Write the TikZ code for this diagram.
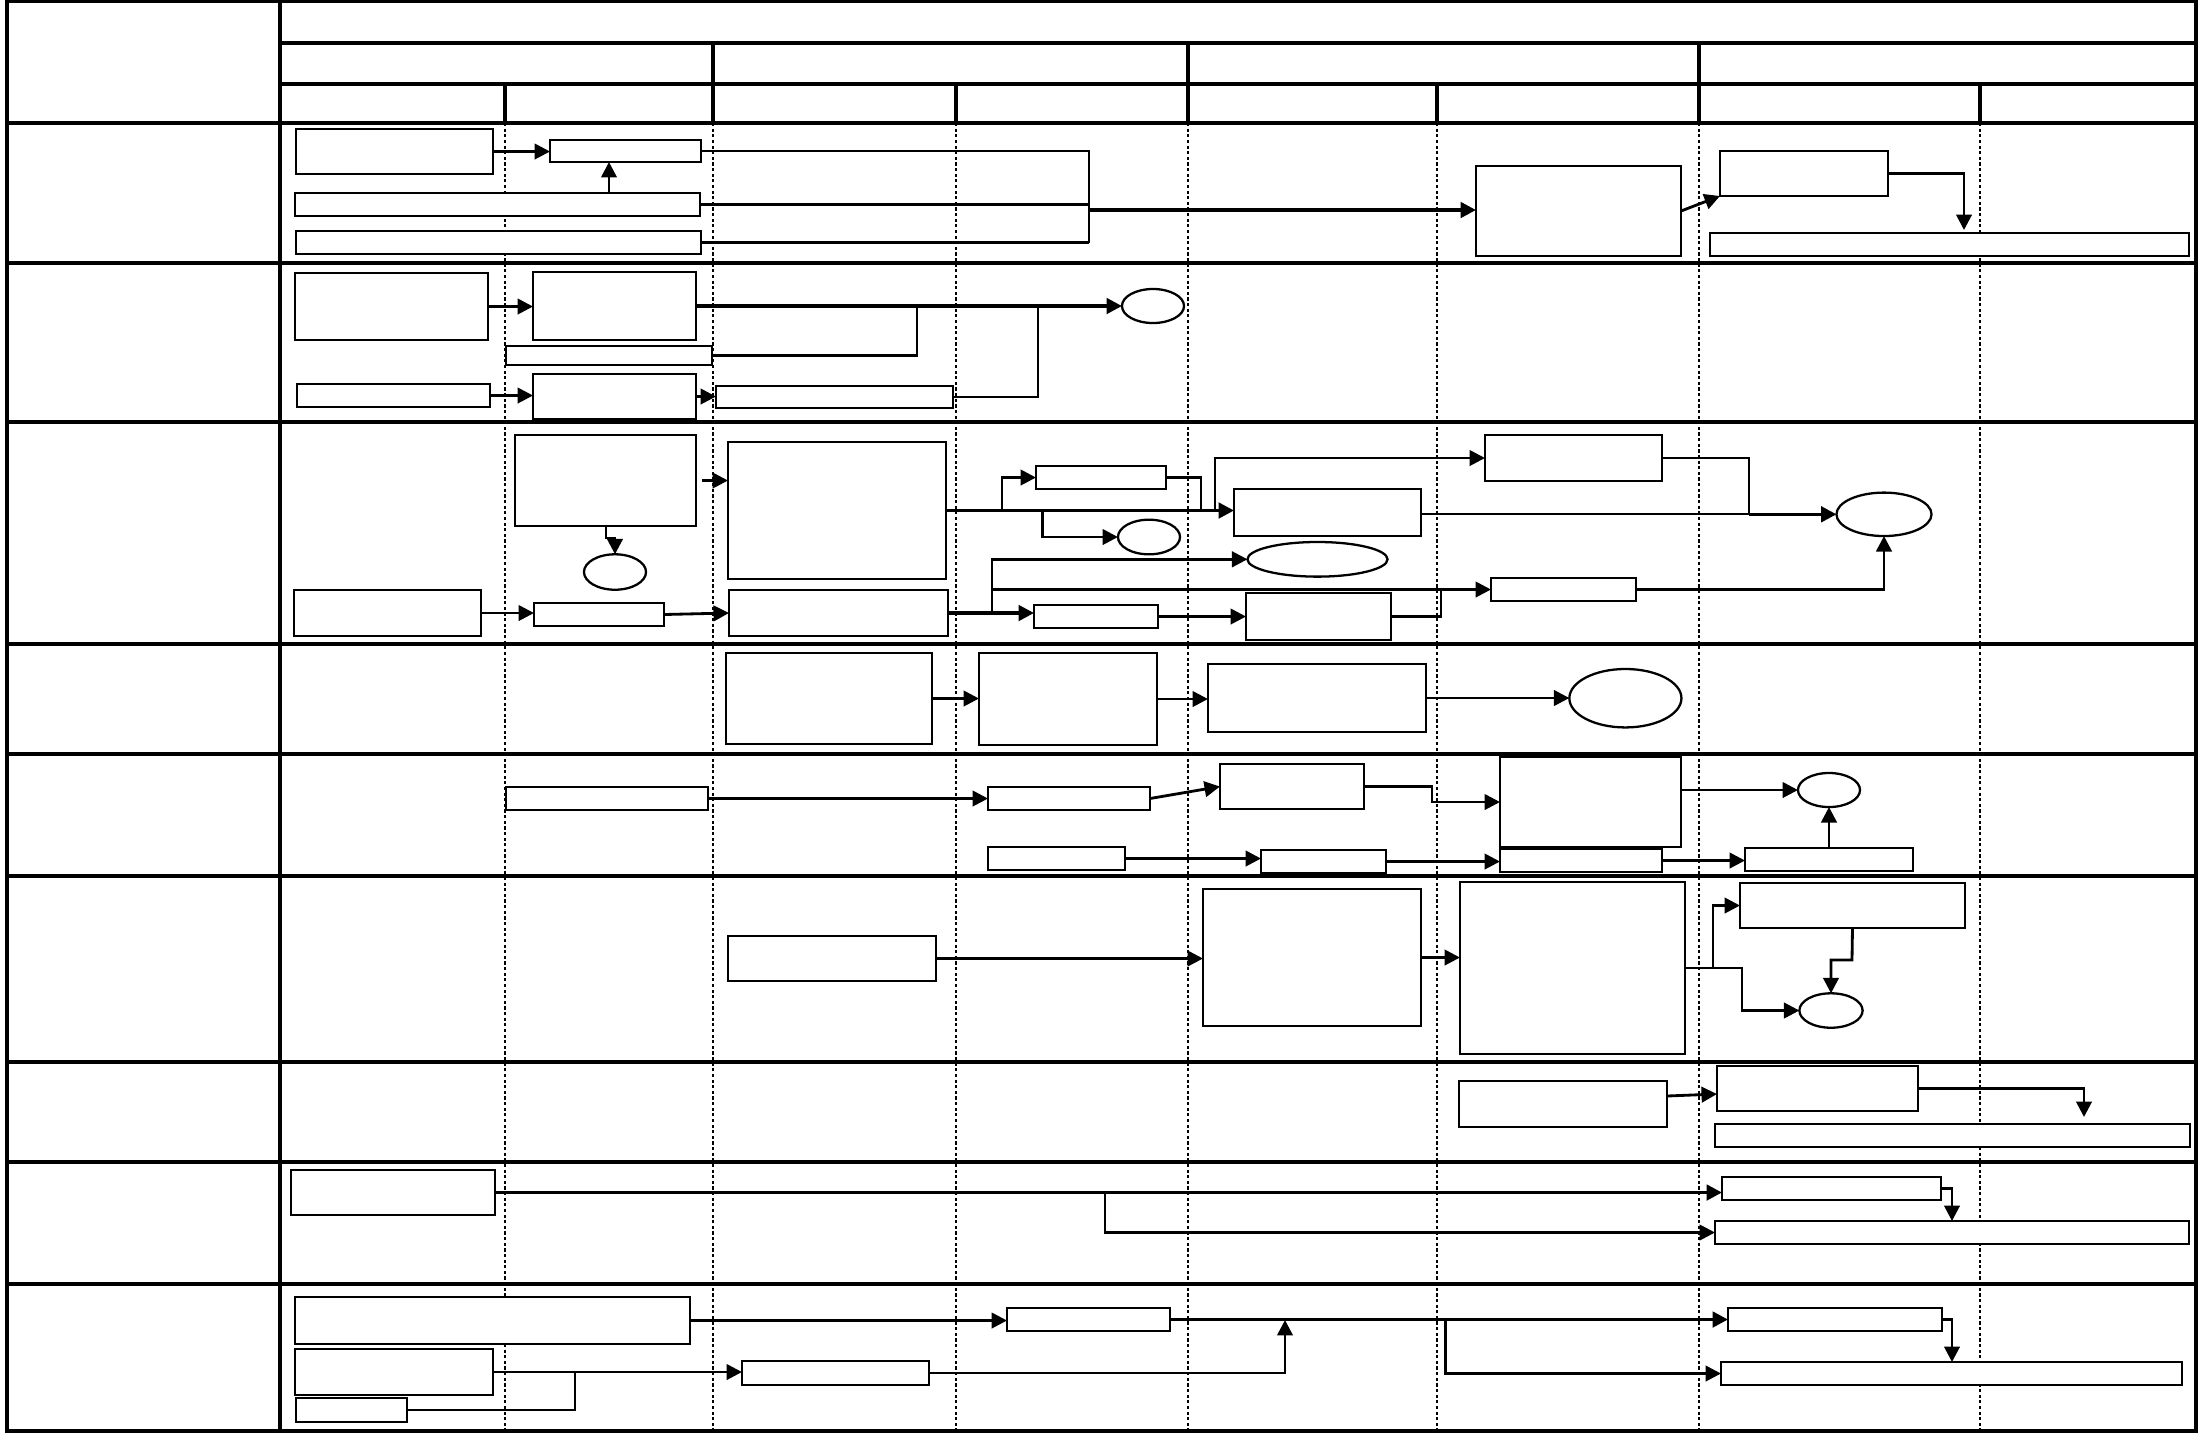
\documentclass[tikz,border=0pt]{standalone}
\usetikzlibrary{arrows.meta,shapes.geometric}
\newcommand\mkbox[5]{%
  \pgfmathsetmacro\mkw{(#4-#2)*0.01}%
  \pgfmathsetmacro\mkh{(#5-#3)*0.01}%
  \node[box, minimum width=\mkw cm, minimum height=\mkh cm] (#1) at ({(#2+#4)/2},{(#3+#5)/2}) {};}
\newcommand\mkell[5]{%
  \pgfmathsetmacro\mkw{#4*0.02}%
  \pgfmathsetmacro\mkh{#5*0.02}%
  \node[ell, minimum width=\mkw cm, minimum height=\mkh cm] (#1) at (#2,#3) {};}
\begin{document}
\begin{tikzpicture}[x=0.01cm,y=-0.01cm,
  frame/.style={line width=0.9pt},
  gridln/.style={line width=0.7pt, dash pattern=on 0.9pt off 0.7pt},
  box/.style={draw, fill=white, line width=0.65pt, inner sep=0pt, outer sep=0pt, rectangle},
  ell/.style={draw, fill=white, line width=0.65pt, inner sep=0pt, outer sep=0pt, ellipse},
  ln/.style={line width=0.8pt},
  thn/.style={line width=0.55pt},
  arr/.style={line width=0.8pt, -{Triangle[length=4.4pt,width=4.4pt]}},
  mainarr/.style={line width=1pt, -{Triangle[length=4.4pt,width=4.4pt]}}]
\useasboundingbox (0,0) rectangle (2205,1432);
\fill[white] (0,0) rectangle (2205,1432);
% dotted column lines
\foreach \x in {505,713,956,1188,1437,1699,1980}
  \draw[gridln] (\x,123) -- (\x,1431);
% frame
\draw[frame] (7,1) rectangle (2196,1431);
\draw[frame] (280,1) -- (280,1431);
\draw[frame] (280,43) -- (2196,43);
\draw[frame] (280,84) -- (2196,84);
\foreach \y in {123,263,422,644,754,876,1062,1162,1284}
  \draw[frame] (7,\y) -- (2196,\y);
\foreach \x in {713,1188,1699}
  \draw[frame] (\x,43) -- (\x,123);
\foreach \x in {505,956,1437,1980}
  \draw[frame] (\x,84) -- (\x,123);
% row 1
\mkbox{A1}{296}{129}{493}{174}
\mkbox{A2}{550}{140}{701}{162}
\mkbox{A3}{295}{193}{700}{216}
\mkbox{A4}{296}{231}{701}{254}
\mkbox{A5}{1476}{166}{1681}{256}
\mkbox{A6}{1720}{151}{1888}{196}
\mkbox{A7}{1710}{233}{2189}{256}
% row 2
\mkbox{B1}{295}{273}{488}{340}
\mkbox{B2}{533}{272}{696}{340}
\mkbox{B3}{506}{346}{712}{365}
\mkbox{B4}{297}{384}{490}{407}
\mkbox{B5}{533}{374}{696}{419}
\mkbox{B6}{716}{386}{953}{408}
\mkell{C1}{1153}{306}{31}{17}
% row 3
\mkbox{D0}{294}{590}{481}{636}
\mkbox{D1}{515}{435}{696}{526}
\mkbox{D2}{728}{442}{946}{579}
\mkbox{D3}{534}{603}{664}{626}
\mkbox{D4}{729}{590}{948}{636}
\mkbox{D5}{1234}{489}{1421}{536}
\mkbox{D6}{1036}{466}{1166}{489}
\mkbox{D8}{1485}{435}{1662}{481}
\mkbox{D9}{1246}{593}{1391}{640}
\mkbox{D10}{1491}{578}{1636}{601}
\mkbox{D11}{1034}{605}{1158}{628}
\mkell{D7}{1317.5}{559.3}{70}{17.3}
\mkell{C2}{615}{572}{31}{17.7}
\mkell{C3}{1149}{537}{31}{17.3}
\mkell{C4}{1884}{514.3}{47.5}{21.7}
% row 4
\mkbox{E1}{726}{653}{932}{744}
\mkbox{E2}{979}{653}{1157}{745}
\mkbox{E3}{1208}{664}{1426}{732}
\mkell{C5}{1625.4}{698.2}{56}{29.2}
% row 5
\mkbox{F1}{506}{787}{708}{810}
\mkbox{F2}{988}{787}{1150}{810}
\mkbox{F3}{1220}{764}{1364}{809}
\mkbox{F4}{1500}{757}{1681}{847}
\mkbox{F5}{988}{847}{1125}{870}
\mkbox{F6}{1261}{850}{1386}{873}
\mkbox{F7}{1500}{849}{1662}{872}
\mkbox{F8}{1745}{848}{1913}{871}
\mkell{C6}{1829}{790}{31}{17}
% row 6
\mkbox{G1}{728}{936}{936}{981}
\mkbox{G2}{1203}{889}{1421}{1026}
\mkbox{G3}{1460}{882}{1685}{1054}
\mkbox{G4}{1740}{883}{1965}{928}
\mkell{C7}{1831}{1010.5}{31.6}{17.2}
% row 7
\mkbox{H1}{1459}{1081}{1667}{1127}
\mkbox{H2}{1717}{1066}{1918}{1111}
\mkbox{H3}{1715}{1124}{2190}{1147}
% row 8
\mkbox{I1}{291}{1170}{495}{1215}
\mkbox{I2}{1722}{1177}{1941}{1200}
\mkbox{I3}{1715}{1221}{2189}{1244}
% row 9
\mkbox{J1}{295}{1297}{690}{1344}
\mkbox{J2}{1007}{1308}{1170}{1331}
\mkbox{J3}{295}{1349}{493}{1395}
\mkbox{J4}{742}{1361}{929}{1385}
\mkbox{J5}{1728}{1308}{1942}{1331}
\mkbox{J6}{1721}{1362}{2182}{1385}
\mkbox{J7}{296}{1398}{407}{1422}
% ---- connectors row 1
\draw[arr] (A1.east) -- (A1.east -| A2.west);
\coordinate (a3u) at (609,193);
\draw[arr] (a3u) -- (a3u |- A2.south);
\coordinate (ja) at (1089,210);
\coordinate (jab) at (1089,242.5);
\draw[ln] (A2.east) -| (jab);
\draw[ln] (A3.east) -- (A3.east -| ja);
\draw[ln] (A4.east) -- (A4.east -| ja);
\draw[mainarr] (ja) -- (ja -| A5.west);
\draw[arr] (A5.east) -- (A6.south west);
\coordinate (a7i) at (1964,230);
\draw[arr] (A6.east) -| (a7i);
% row 2
\draw[arr] (B1.east) -- (B1.east -| B2.west);
\draw[mainarr] (B2.east) -- (C1.west);
\coordinate (jb1) at (917,306);
\draw[ln] (B3.east) -| (jb1);
\draw[arr] (B4.east) -- (B4.east -| B5.west);
\draw[arr] (B5.east) -- (B5.east -| B6.west);
\coordinate (jb2) at (1038,306);
\draw[ln] (B6.east) -| (jb2);
% row 3
\draw[arr] (D0.east) -- (D0.east -| D3.west);
\draw[arr, shorten <=1.7pt] (D1.east) -- (D1.east -| D2.west);
\coordinate (d1b) at (606,526);
\draw[arr] (d1b) -- (606,538) -- (615,538) -- (C2.north);
\draw[arr] (D3.east) -- (D4.west);
\draw[mainarr] (D2.east) -- (D2.east -| D5.west);
\coordinate (jd1) at (1002,510.5);
\draw[arr] (jd1) |- (D6.west);
\coordinate (jd2) at (1042.5,510.5);
\draw[arr] (jd2) |- (C3.west);
\coordinate (jd3) at (1201,510.5);
\draw[ln] (D6.east) -| (jd3);
\coordinate (jd4) at (1215,510.5);
\draw[arr] (jd4) |- (D8.west);
\coordinate (jd5) at (1749,514.3);
\draw[ln] (D8.east) -| (jd5);
\draw[thn] (D5.east |- C4.west) -- (jd5);
\draw[mainarr] (jd5) -- (C4.west);
\draw[mainarr] (D4.east) -- (D4.east -| D11.west);
\coordinate (jd6) at (992,613);
\draw[arr] (jd6) |- (D7.west);
\coordinate (jd7) at (992,589.5);
\draw[arr] (jd7) -- (jd7 -| D10.west);
\draw[arr] (D11.east) -- (D11.east -| D9.west);
\coordinate (jd8) at (1441,589.5);
\draw[ln] (D9.east) -| (jd8);
\draw[arr] (D10.east) -| (C4.south);
% row 4
\draw[arr] (E1.east) -- (E1.east -| E2.west);
\draw[arr] (E2.east) -- (E2.east -| E3.west);
\draw[arr] (E3.east) -- (E3.east -| C5.west);
% row 5
\draw[arr] (F1.east) -- (F1.east -| F2.west);
\draw[arr] (F2.east) -- (F3.west);
\coordinate (jf1) at (1432,786.5);
\draw[arr] (F3.east) -- (jf1) |- (F4.west);
\draw[arr] (F4.east |- C6.west) -- (C6.west);
\draw[arr] (F5.east) -- (F5.east -| F6.west);
\draw[arr] (F6.east) -- (F6.east -| F7.west);
\draw[arr] (F7.east) -- (F7.east -| F8.west);
\draw[arr] (F8.north) -- (C6.south);
% row 6
\draw[arr] (G1.east) -- (G1.east -| G2.west);
\draw[arr] (G2.east) -- (G2.east -| G3.west);
\coordinate (jg1) at (1713,968);
\coordinate (jg2) at (1742,968);
\draw[arr] (G3.east |- jg1) -- (jg1) |- (G4.west);
\draw[arr] (jg1) -- (jg2) |- (C7.west);
\draw[arr] (G4.south) -- (1852,960) -- (1831,960) -- (C7.north);
% row 7
\coordinate (h1o) at (1667,1096);
\coordinate (h2i) at (1717,1094);
\draw[arr] (h1o) -- (h2i);
\coordinate (h3i) at (2084,1117);
\draw[arr] (H2.east) -| (h3i);
% row 8
\draw[mainarr] (I1.east) -- (I1.east -| I2.west);
\coordinate (ji) at (1105,1192.5);
\draw[arr] (ji) |- (I3.west);
\coordinate (i3i) at (1952,1221);
\draw[arr] (I2.east) -| (i3i);
% row 9
\draw[arr] (J1.east) -- (J1.east -| J2.west);
\draw[mainarr] (J2.east) -- (J2.east -| J5.west);
\coordinate (jj1) at (1445.5,1319.5);
\draw[arr] (jj1) |- (J6.west);
\draw[arr] (J3.east) -- (J3.east -| J4.west);
\coordinate (jj2) at (575,1373);
\draw[ln] (J7.east) -| (jj2);
\coordinate (jj3) at (1285,1320);
\draw[arr] (J4.east) -| (jj3);
\coordinate (j6i) at (1952,1362);
\draw[arr] (J5.east) -| (j6i);
\end{tikzpicture}
\end{document}
